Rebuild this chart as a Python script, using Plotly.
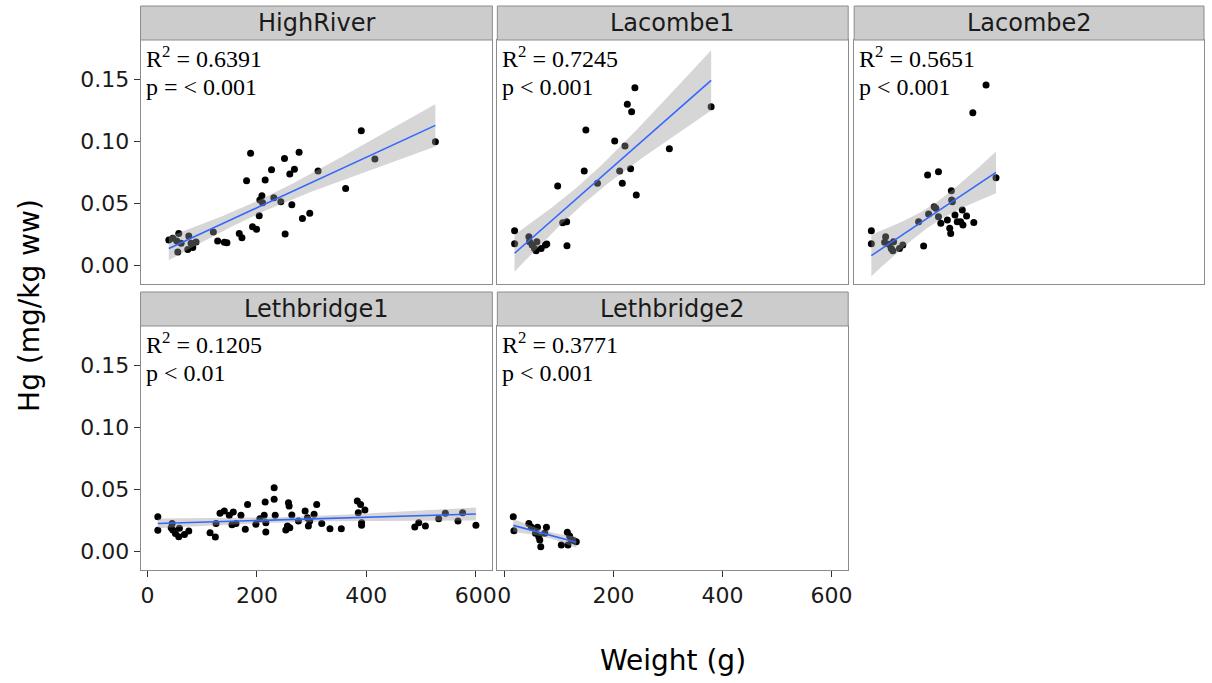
import numpy as np
import plotly.graph_objects as go

# ---------------- data ----------------
sites = ["HighRiver", "Lacombe1", "Lacombe2", "Lethbridge1", "Lethbridge2"]
r2_labels = ["0.6391", "0.7245", "0.5651", "0.1205", "0.3771"]
p_labels = ["p = < 0.001", "p < 0.001", "p < 0.001", "p < 0.01", "p < 0.001"]

highriver_weight = [38.9, 46.2, 57.1, 53.5, 55.3, 61.4, 75.4, 73.5, 82.7, 88.7, 79.6, 120.3, 128.2, 140.4,
                    145.2, 167.7, 172.6, 188.4, 181.1, 192.0, 199.3, 204.2, 209.1, 205.4, 210.3, 215.1,
                    226.7, 230.9, 243.7, 250.4, 251.6, 260.1, 263.8, 268.6, 277.1, 283.2, 296.6, 311.8,
                    362.2, 390.8, 415.7, 526.3]
highriver_hg = [0.0202, 0.0215, 0.0255, 0.0194, 0.0105, 0.0175, 0.0234, 0.0126, 0.0142, 0.0185, 0.0175,
                0.0266, 0.0194, 0.0183, 0.0180, 0.0255, 0.0220, 0.0901, 0.0680, 0.0309, 0.0288, 0.0398,
                0.0559, 0.0524, 0.0503, 0.0685, 0.0769, 0.0543, 0.0511, 0.0860, 0.0250, 0.0734, 0.0487,
                0.0772, 0.0909, 0.0376, 0.0417, 0.0758, 0.0618, 0.1083, 0.0855, 0.0995]

lacombe1_weight = [18.8, 18.8, 45.0, 46.2, 51.0, 55.3, 59.6, 58.3, 67.5, 75.4, 77.8, 97.8, 107.0, 114.3,
                   114.9, 146.5, 149.5, 170.8, 202.4, 211.5, 216.3, 221.2, 225.5, 231.5, 233.4, 239.4,
                   241.9, 302.6, 379.2]
lacombe1_hg = [0.0277, 0.0172, 0.0228, 0.0188, 0.0161, 0.0134, 0.0188, 0.0116, 0.0134, 0.0161, 0.0169,
               0.0637, 0.0341, 0.0349, 0.0156, 0.0758, 0.1089, 0.0659, 0.1000, 0.0758, 0.0659, 0.0960,
               0.1296, 0.0777, 0.1237, 0.1430, 0.0565, 0.0938, 0.1277]

lacombe2_weight = [18.8, 18.8, 45.0, 43.2, 51.0, 55.3, 59.6, 58.3, 70.5, 76.6, 105.7, 114.9, 122.2, 124.0,
                   134.3, 137.3, 142.2, 142.2, 146.5, 158.6, 162.9, 164.7, 165.9, 166.5, 167.7, 172.6,
                   176.8, 182.9, 186.0, 187.2, 193.9, 205.4, 207.2, 229.7, 248.0]
lacombe2_hg = [0.0277, 0.0172, 0.0228, 0.0183, 0.0167, 0.0134, 0.0188, 0.0116, 0.0134, 0.0161, 0.0349,
               0.0153, 0.0726, 0.0411, 0.0470, 0.0457, 0.0753, 0.0390, 0.0336, 0.0363, 0.0296, 0.0255,
               0.0599, 0.0524, 0.0511, 0.0403, 0.0349, 0.0349, 0.0444, 0.0323, 0.0395, 0.1228, 0.0344,
               0.1452, 0.0704]

lethbridge1_weight = [18.8, 18.8, 45.0, 43.2, 46.2, 51.0, 57.1, 58.3, 67.5, 75.4, 114.3, 124.0, 125.2,
                      132.5, 140.4, 149.5, 154.4, 156.8, 161.7, 170.8, 178.7, 182.9, 198.1, 205.4, 213.3,
                      215.1, 216.3, 216.3, 231.5, 231.5, 233.4, 252.8, 255.8, 257.7, 258.9, 260.1, 263.8,
                      275.9, 288.1, 292.3, 294.1, 296.6, 304.5, 309.3, 318.5, 333.6, 354.3, 383.5, 385.3,
                      389.5, 391.4, 391.4, 397.4, 488.6, 495.9, 508.1, 532.4, 544.5, 567.6, 576.1, 600.4]
lethbridge1_hg = [0.0277, 0.0167, 0.0223, 0.0188, 0.0169, 0.0142, 0.0116, 0.0183, 0.0134, 0.0161, 0.0148,
                  0.0113, 0.0223, 0.0304, 0.0323, 0.0288, 0.0212, 0.0315, 0.0223, 0.0288, 0.0175, 0.0376,
                  0.0215, 0.0261, 0.0288, 0.0395, 0.0228, 0.0153, 0.0511, 0.0417, 0.0288, 0.0169, 0.0202,
                  0.0390, 0.0363, 0.0188, 0.0290, 0.0242, 0.0323, 0.0269, 0.0202, 0.0242, 0.0296, 0.0376,
                  0.0223, 0.0180, 0.0180, 0.0403, 0.0309, 0.0376, 0.0228, 0.0207, 0.0331, 0.0194, 0.0228,
                  0.0202, 0.0261, 0.0304, 0.0242, 0.0309, 0.0207]

lethbridge2_weight = [16.4, 17.6, 45.0, 49.8, 60.8, 57.1, 63.2, 66.8, 77.2, 74.1, 65.0, 115.5, 119.7, 104.5,
                      116.7, 127.6, 131.9, 122.7]
lethbridge2_hg = [0.0277, 0.0164, 0.0223, 0.0191, 0.0191, 0.0143, 0.0116, 0.0035, 0.0191, 0.0143, 0.0089,
                  0.0151, 0.0121, 0.0048, 0.0048, 0.0083, 0.0075, 0.0094]

x_ticks = [0, 200, 400, 600]
y_ticks = [0.00, 0.05, 0.10, 0.15]
y_tick_labels = ["0.00", "0.05", "0.10", "0.15"]

weights = [highriver_weight, lacombe1_weight, lacombe2_weight, lethbridge1_weight, lethbridge2_weight]
hgs = [highriver_hg, lacombe1_hg, lacombe2_hg, lethbridge1_hg, lethbridge2_hg]

# ---------------- layout geometry ----------------
W, H = 1212, 683
col_px = [(141, 494), (499, 851), (857, 1208)]
row_px = [(40, 284), (326, 570)]
strip_h = 34


def px_x(v):
    return v / W


def px_y(v):
    return 1 - v / H


def t_quantile(df):
    z = 1.959964
    return (z + (z ** 3 + z) / (4 * df) + (5 * z ** 5 + 16 * z ** 3 + 3 * z) / (96 * df ** 2)
            + (3 * z ** 7 + 19 * z ** 5 + 17 * z ** 3 - 15 * z) / (384 * df ** 3))


SERIF = "Liberation Serif"
SANS = "DejaVu Sans"

fig = go.Figure()
shapes = []
annotations = []
layout_axes = {}

for i, site in enumerate(sites):
    r, c = divmod(i, 3)
    idx = i + 1
    xa = "x" if idx == 1 else f"x{idx}"
    ya = "y" if idx == 1 else f"y{idx}"
    x = np.array(weights[i], dtype=float)
    y = np.array(hgs[i], dtype=float)

    # points
    fig.add_trace(go.Scatter(x=x, y=y, mode="markers", xaxis=xa, yaxis=ya,
                             marker=dict(color="black", size=7, line=dict(width=0)),
                             showlegend=False, hoverinfo="x+y"))

    # linear fit with 95% CI
    n = len(x)
    b1, b0 = np.polyfit(x, y, 1)
    resid = y - (b0 + b1 * x)
    s = np.sqrt(np.sum(resid ** 2) / (n - 2))
    xbar = x.mean()
    sxx = np.sum((x - xbar) ** 2)
    xs = np.linspace(x.min(), x.max(), 80)
    ys = b0 + b1 * xs
    se = s * np.sqrt(1 / n + (xs - xbar) ** 2 / sxx)
    t = t_quantile(n - 2)
    upper = ys + t * se
    lower = ys - t * se
    fig.add_trace(go.Scatter(x=np.concatenate([xs, xs[::-1]]), y=np.concatenate([upper, lower[::-1]]),
                             mode="lines", fill="toself", fillcolor="rgba(153,153,153,0.4)",
                             line=dict(width=0, color="rgba(0,0,0,0)"), xaxis=xa, yaxis=ya,
                             showlegend=False, hoverinfo="skip"))
    fig.add_trace(go.Scatter(x=xs, y=ys, mode="lines", line=dict(color="#3366FF", width=1.6),
                             xaxis=xa, yaxis=ya, showlegend=False, hoverinfo="skip"))

    x0, x1 = col_px[c]
    y0, y1 = row_px[r]
    show_x = (r == 1)
    show_y = (c == 0)
    xkey = "xaxis" if idx == 1 else f"xaxis{idx}"
    ykey = "yaxis" if idx == 1 else f"yaxis{idx}"
    layout_axes[xkey] = dict(
        domain=[px_x(x0), px_x(x1)], anchor=ya, range=[-12.8, 630.5],
        tickvals=x_ticks, ticktext=[str(v) for v in x_ticks],
        showticklabels=show_x, ticks="outside" if show_x else "", ticklen=6, tickwidth=1.3,
        tickcolor="#333333", showgrid=False, zeroline=False,
        showline=True, mirror=True, linecolor="#8c8c8c", linewidth=1,
        tickfont=dict(family=SANS, size=22, color="#1a1a1a"))
    layout_axes[ykey] = dict(
        domain=[px_y(y1), px_y(y0)], anchor=xa, range=[-0.0153, 0.1815],
        tickvals=y_ticks, ticktext=y_tick_labels,
        showticklabels=show_y, ticks="outside" if show_y else "", ticklen=6, tickwidth=1.3,
        tickcolor="#333333", showgrid=False, zeroline=False,
        showline=True, mirror=True, linecolor="#8c8c8c", linewidth=1,
        tickfont=dict(family=SANS, size=22, color="#1a1a1a"))

    # strip
    shapes.append(dict(type="rect", xref="paper", yref="paper",
                       x0=px_x(x0), x1=px_x(x1), y0=px_y(y0), y1=px_y(y0 - strip_h),
                       fillcolor="#cccccc", line=dict(color="#8c8c8c", width=1), layer="above"))
    annotations.append(dict(xref="paper", yref="paper", x=px_x((x0 + x1) / 2), y=px_y(y0 - strip_h / 2),
                            text=site, showarrow=False, xanchor="center", yanchor="middle",
                            font=dict(family=SANS, size=24, color="#1a1a1a")))

    # R2 / p labels
    annotations.append(dict(xref=f"{xa} domain", yref=f"{ya} domain", x=0.0, y=1 - 17 / 244,
                            text=f"R<sup>2</sup> = {r2_labels[i]}", showarrow=False,
                            xanchor="left", yanchor="middle", xshift=3,
                            font=dict(family=SERIF, size=24, color="black")))
    annotations.append(dict(xref=f"{xa} domain", yref=f"{ya} domain", x=0.0, y=1 - 47 / 244,
                            text=p_labels[i], showarrow=False,
                            xanchor="left", yanchor="middle", xshift=3,
                            font=dict(family=SERIF, size=24, color="black")))

# axis titles
annotations.append(dict(xref="paper", yref="paper", x=px_x(675), y=px_y(660), text="Weight (g)",
                        showarrow=False, xanchor="center", yanchor="middle",
                        font=dict(family=SANS, size=28, color="black")))
annotations.append(dict(xref="paper", yref="paper", x=px_x(30), y=px_y(305), text="Hg (mg/kg ww)",
                        showarrow=False, xanchor="center", yanchor="middle", textangle=-90,
                        font=dict(family=SANS, size=28, color="black")))

fig.update_layout(width=W, height=H, margin=dict(l=0, r=0, t=0, b=0),
                  paper_bgcolor="white", plot_bgcolor="white",
                  shapes=shapes, annotations=annotations, showlegend=False, **layout_axes)

fig.write_html("out.html", config={"displayModeBar": False},
               post_script="document.body.style.margin='0px';")
